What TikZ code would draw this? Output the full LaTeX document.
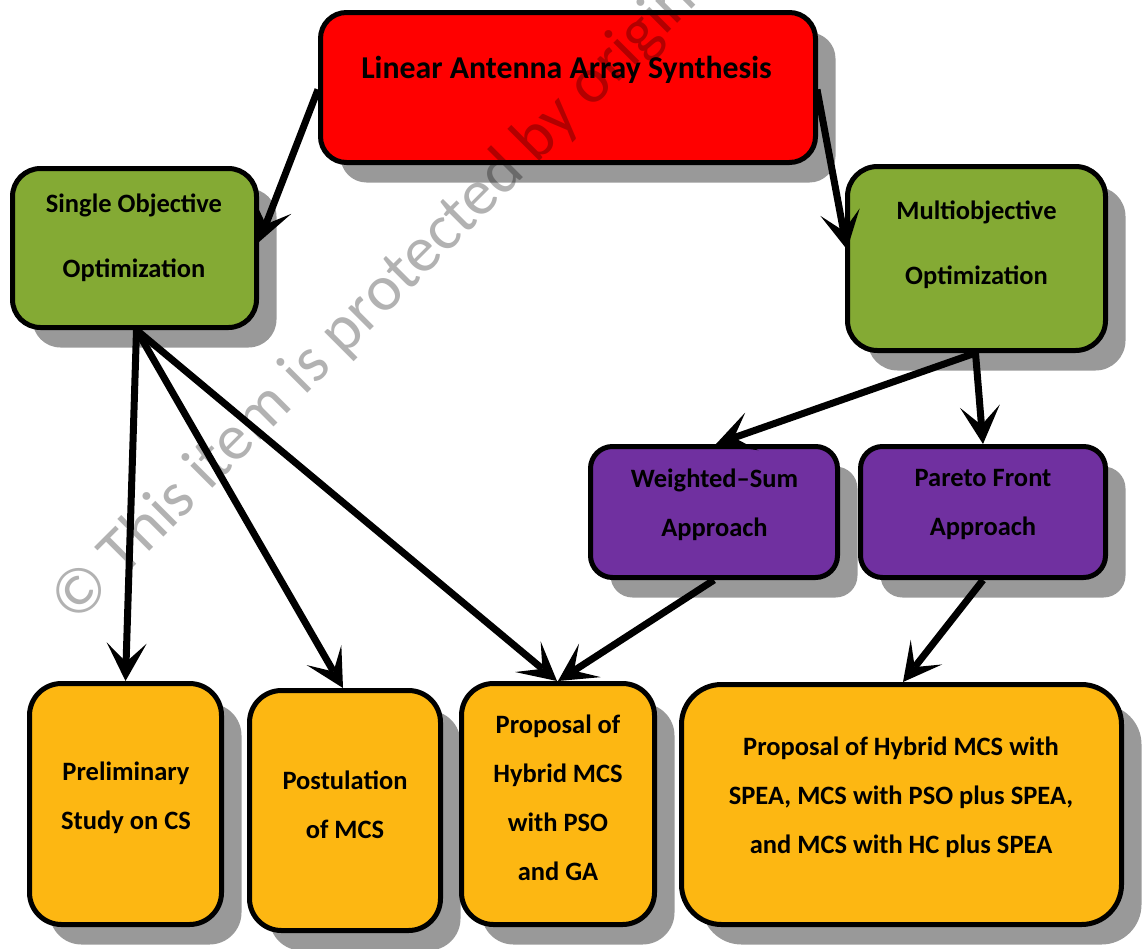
\documentclass[tikz,border=0pt]{standalone}
\usepackage{fontspec}
\setmainfont{Carlito}
\usetikzlibrary{arrows.meta,shadows,calc}

\definecolor{boxred}{HTML}{FF0000}
\definecolor{boxgreen}{HTML}{84AA34}
\definecolor{boxpurple}{HTML}{7030A0}
\definecolor{boxgold}{HTML}{FDB712}
\definecolor{shadowgray}{HTML}{999999}

\tikzset{
  panel/.style={draw=black, line width=5pt, inner sep=0pt,
    drop shadow={shadow xshift=20pt, shadow yshift=-20pt,
                 fill=shadowgray, opacity=1}},
  boxtext/.style={align=center, inner sep=0pt, text=black,
    font=\fontsize{26.5pt}{49pt}\selectfont\bfseries},
  widetext/.style={boxtext, font=\fontsize{26.5pt}{65pt}\selectfont\bfseries},
  titletext/.style={boxtext, font=\fontsize{31.8pt}{38pt}\selectfont\bfseries},
  conn/.style={line width=7pt, draw=black,
    -{Stealth[length=38pt, width=40pt, inset=19pt, line width=0pt]}},
  watermark/.style={font=\fontsize{65pt}{65pt}\selectfont, text=black,
    text opacity=0.3, inner sep=0pt}
}

\begin{document}
\begin{tikzpicture}[x=1pt, y=-1pt]
  \useasboundingbox (0,0) rectangle (1143,948);
  \clip (0,0) rectangle (1143,948);

  % boxes
  \node[panel, fill=boxred, rounded corners=26pt,
        minimum width=495pt, minimum height=150pt] (root) at (568,87.5) {};
  \node[panel, fill=boxgreen, rounded corners=28pt,
        minimum width=244pt, minimum height=159pt] (single) at (134.5,248) {};
  \node[panel, fill=boxgreen, rounded corners=30pt,
        minimum width=258pt, minimum height=184pt] (multi) at (976.5,258.5) {};
  \node[panel, fill=boxpurple, rounded corners=22pt,
        minimum width=247pt, minimum height=131pt] (wsum) at (714,512) {};
  \node[panel, fill=boxpurple, rounded corners=22pt,
        minimum width=245pt, minimum height=131pt] (pareto) at (983,512) {};
  \node[panel, fill=boxgold, rounded corners=32pt,
        minimum width=192pt, minimum height=241pt] (prelim) at (125.5,804) {};
  \node[panel, fill=boxgold, rounded corners=32pt,
        minimum width=191pt, minimum height=240pt] (postul) at (345,810.5) {};
  \node[panel, fill=boxgold, rounded corners=32pt,
        minimum width=193pt, minimum height=241pt] (hybrid) at (558,804) {};
  \node[panel, fill=boxgold, rounded corners=40pt,
        minimum width=440pt, minimum height=240pt] (spea) at (901.5,804.5) {};

  % box texts
  \node[titletext] (t-root) at (566.5,70) {Linear Antenna Array Synthesis};
  \node[widetext] (t-single) at (134,237.5) {Single Objective\\Optimization};
  \node[widetext] (t-multi) at (976.5,244.5) {Multiobjective\\Optimization};
  \node[boxtext] (t-wsum) at (714.5,504.5) {Weighted--Sum\\Approach};
  \node[boxtext] (t-pareto) at (983,504.5) {Pareto Front\\Approach};
  \node[boxtext] (t-prelim) at (126,797.5) {Preliminary\\Study on CS};
  \node[boxtext] (t-postul) at (345,804.5) {Postulation\\of MCS};
  \node[boxtext] (t-hybrid) at (558,798) {Proposal of\\Hybrid MCS\\with PSO\\and GA};
  \node[boxtext] (t-spea) at (901,797.5) {Proposal of Hybrid MCS with\\SPEA, MCS with PSO plus SPEA,\\and MCS with HC plus SPEA};

  % connectors
  \draw[conn] ($(root.west)+(0,2)$) -- ($(single.east)+(0,-6)$);
  \draw[conn] ($(root.east)+(-1,2)$) -- ($(multi.west)+(2,-9)$);
  \draw[conn] ($(single.south)+(2,0)$) -- (prelim.north);
  \draw[conn] ($(single.south)+(2,0)$) -- ($(postul.north)+(-2,0)$);
  \draw[conn] ($(single.south)+(2,0)$) -- ($(hybrid.north)+(-1,0)$);
  \draw[conn] ($(multi.south)+(-1,0)$) -- ($(wsum.north)+(2,0)$);
  \draw[conn] ($(multi.south)+(-1,0)$) -- (pareto.north);
  \draw[conn] (wsum.south) -- (hybrid.north);
  \draw[conn] (pareto.south) -- ($(spea.north)+(1.5,0)$);

  % copyright overlay
  \node[watermark, rotate=45, anchor=base west] (wm) at (75,626)
       {© This item is protected by original};
\end{tikzpicture}
\end{document}
